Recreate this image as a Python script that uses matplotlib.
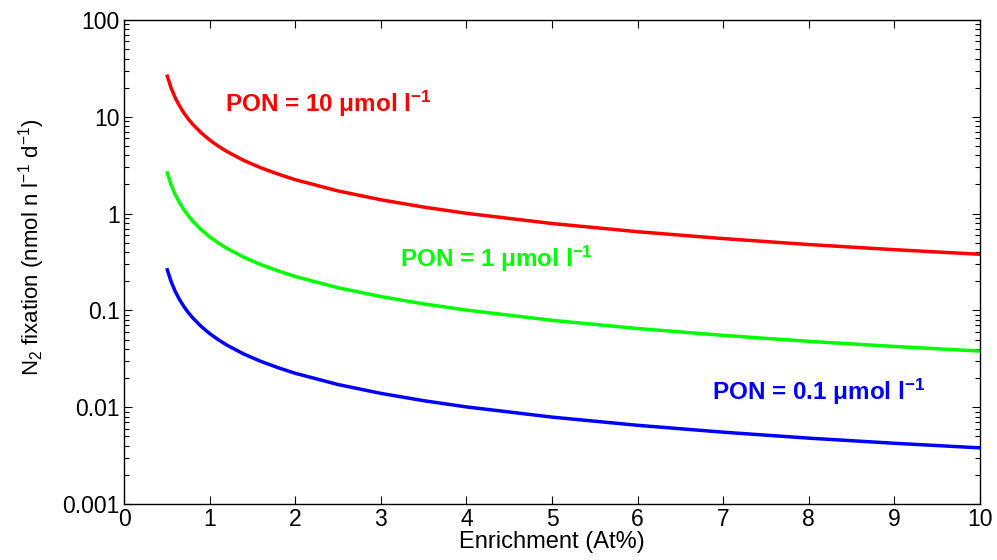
import matplotlib
matplotlib.use("Agg")
import matplotlib.pyplot as plt
from matplotlib.ticker import LogLocator, NullFormatter

plt.rcParams['font.family'] = ['Liberation Sans', 'DejaVu Sans']
plt.rcParams['mathtext.default'] = 'regular'

# Enrichment (At%)
enrichment = [0.5, 0.55, 0.6, 0.65, 0.7, 0.75, 0.8, 0.9, 1.0, 1.1, 1.2, 1.4, 1.6, 1.8, 2.0,
              2.5, 3.0, 3.5, 4.0, 5.0, 6.0, 7.0, 8.0, 9.0, 10.0]
# N2 fixation (nmol N l-1 d-1)
pon_10 = [27.3, 19.9, 15.6, 12.9, 10.96, 9.53, 8.43, 6.85, 5.77, 4.99, 4.39, 3.54, 2.97, 2.56, 2.24,
          1.715, 1.39, 1.168, 1.007, 0.79, 0.65, 0.552, 0.479, 0.424, 0.38]
pon_1 = [2.73, 1.99, 1.56, 1.29, 1.096, 0.953, 0.843, 0.685, 0.577, 0.499, 0.439, 0.354, 0.297, 0.256, 0.224,
         0.1715, 0.139, 0.1168, 0.1007, 0.079, 0.065, 0.0552, 0.0479, 0.0424, 0.038]
pon_01 = [0.273, 0.199, 0.156, 0.129, 0.1096, 0.0953, 0.0843, 0.0685, 0.0577, 0.0499, 0.0439, 0.0354, 0.0297,
          0.0256, 0.0224, 0.01715, 0.0139, 0.01168, 0.01007, 0.0079, 0.0065, 0.00552, 0.00479, 0.00424, 0.0038]

labels = ['PON = 10 μmol l$^{-1}$', 'PON = 1 μmol l$^{-1}$', 'PON = 0.1 μmol l$^{-1}$']
label_x = [1.18, 3.22, 6.87]
label_y = [11.3, 0.2825, 0.01186]
colors = ['#ff0000', '#00ff00', '#0000ff']

fig = plt.figure(figsize=(9.97, 5.6), dpi=100)
ax = fig.add_axes([124/997, 1-504/560, (980-124)/997, (504-20)/560])

for ys, c, lab, tx, ty in zip([pon_10, pon_1, pon_01], colors, labels, label_x, label_y):
    ax.plot(enrichment, ys, color=c, lw=2.5, solid_capstyle='butt')
    ax.text(tx, ty, lab, color=c, fontsize=17.5, fontweight='bold', va='baseline', ha='left')

ax.set_yscale('log')
ax.set_xlim(0, 10)
ax.set_ylim(0.001, 100)
ax.set_xticks(range(0, 11))
ax.set_yticks([0.001, 0.01, 0.1, 1, 10, 100])
ax.set_yticklabels(['0.001', '0.01', '0.1', '1', '10', '100'])
ax.yaxis.set_minor_locator(LogLocator(base=10, subs=range(2, 10), numticks=20))
ax.yaxis.set_minor_formatter(NullFormatter())
ax.tick_params(which='both', direction='in', top=True, right=True, labelsize=16.5, width=0.8)
ax.tick_params(which='major', length=6, pad=3)
ax.tick_params(which='minor', length=3.5)
for s in ax.spines.values():
    s.set_linewidth(1.0)

ax.set_xlabel('Enrichment (At%)', fontsize=17, labelpad=0)
ax.set_ylabel('N$_2$ fixation (nmol n l$^{-1}$ d$^{-1}$)', fontsize=16, labelpad=11)
ax.yaxis.label.set_y(0.53)

fig.savefig('out.png', dpi=100)
